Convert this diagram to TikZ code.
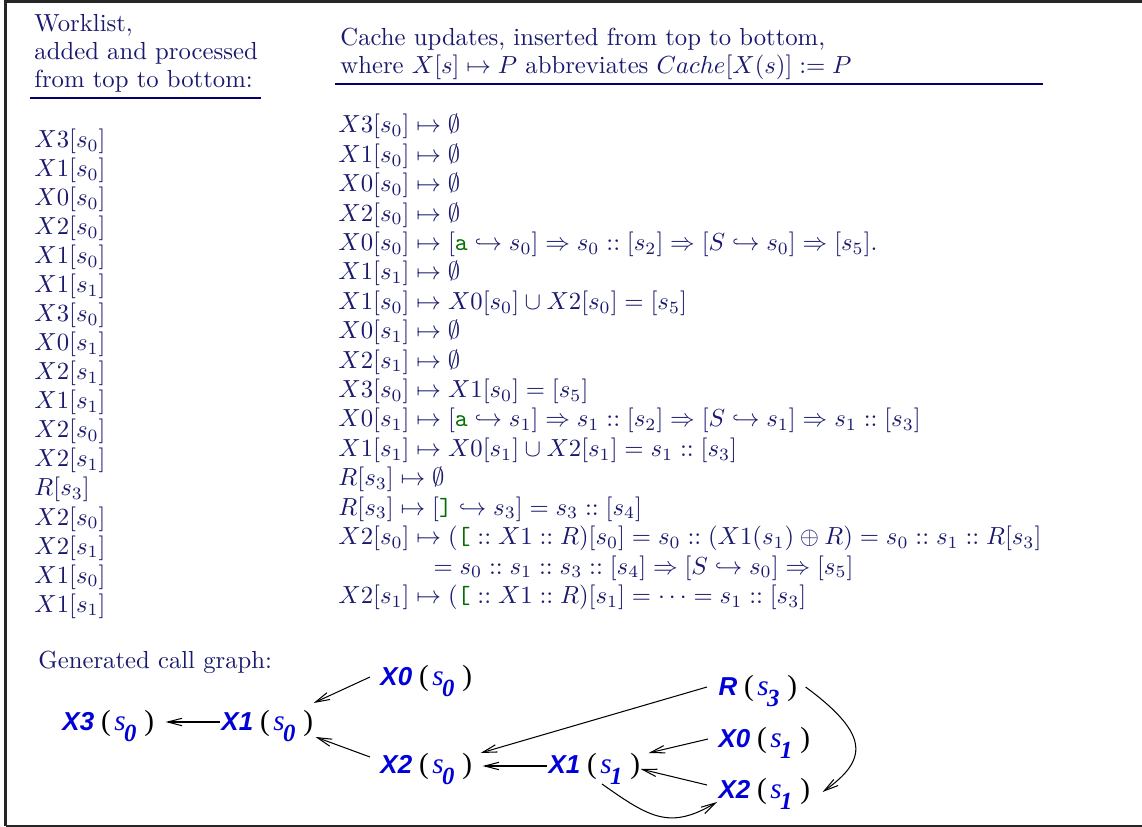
\documentclass[tikz,border=0pt]{standalone}
\usepackage{fontspec}
\usetikzlibrary{arrows.meta}
\newfontfamily\gsans{Liberation Sans}
\newfontfamily\gserif{Liberation Serif}
\definecolor{navytext}{RGB}{25,25,110}
\definecolor{navyline}{RGB}{0,0,110}
\definecolor{ttgreen}{RGB}{0,110,0}
\definecolor{gblue}{RGB}{0,0,215}
\newcommand\ga{\mbox{\color{ttgreen}\ttfamily a}}
\newcommand\gopen{\mbox{\color{ttgreen}\ttfamily [}}
\newcommand\gclose{\mbox{\color{ttgreen}\ttfamily ]}}
\newcommand\cgnode[2]{{\gsans\bfseries\itshape\fontsize{10.5}{12}\selectfont\color{gblue}#1}\hspace{2.8pt}{\gserif\fontsize{11.8}{12}\selectfont(}\hspace{1.4pt}{\gserif\itshape\fontsize{11.8}{12}\selectfont\color{gblue}s}\hspace{-0.6pt}\raisebox{-4.8pt}{\gserif\bfseries\itshape\fontsize{10}{10}\selectfont\color{gblue}#2}\hspace{3.2pt}{\gserif\fontsize{11.8}{12}\selectfont)}}
\tikzset{
  txt/.style={anchor=base west, inner sep=0pt, text=navytext, font=\fontsize{10}{12}\selectfont},
  gnode/.style={anchor=base west, inner sep=0pt},
  uline/.style={draw=navyline, line width=0.8pt},
  frameline/.style={draw=black!85, line width=1pt},
  arr/.style={draw=black, line width=0.42pt, -{Straight Barb[length=5.8pt,width=3pt,line width=0.42pt]}}
}
\begin{document}
\begin{tikzpicture}[x=0.405pt, y=-0.405pt]
\useasboundingbox (0,0) rectangle (1142,827);
% frame
\draw[frameline] (5.5,826) -- (5.5,1.5) -- (1150,1.5);
\draw[frameline] (5.5,826) -- (1150,826);
% headers
\node[txt] (wh1) at (34,32) {Worklist,};
\node[txt] (wh2) at (34,60) {added and processed};
\node[txt] (wh3) at (34,88) {from top to bottom:};
\draw[uline] (30,98) -- (261,98);
\node[txt] (ch1) at (340,46) {Cache updates, inserted from top to bottom,};
\node[txt] (ch2) at (340,74) {where $X[s] \mapsto P$ abbreviates $Cache[X(s)] := P$};
\draw[uline] (335,84) -- (1043,84);
% worklist
\foreach \t [count=\i] in {X3[s_0], X1[s_0], X0[s_0], X2[s_0], X1[s_0], X1[s_1], X3[s_0], X0[s_1], X2[s_1], X1[s_1], X2[s_0], X2[s_1], R[s_3], X2[s_0], X2[s_1], X1[s_0], X1[s_1]}
  \node[txt] (w\i) at (34,{148+(\i-1)*29}) {$\t$};
% cache updates
\node[txt] (c1) at (338,133) {$X3[s_0] \mapsto \emptyset$};
\node[txt] (c2) at (338,162.4) {$X1[s_0] \mapsto \emptyset$};
\node[txt] (c3) at (338,191.8) {$X0[s_0] \mapsto \emptyset$};
\node[txt] (c4) at (338,221.2) {$X2[s_0] \mapsto \emptyset$};
\node[txt] (c5) at (338,250.6) {$X0[s_0] \mapsto [\ga \hookrightarrow s_0] \Rightarrow s_0 :: [s_2] \Rightarrow [S \hookrightarrow s_0] \Rightarrow [s_5].$};
\node[txt] (c6) at (338,280) {$X1[s_1] \mapsto \emptyset$};
\node[txt] (c7) at (338,309.4) {$X1[s_0] \mapsto X0[s_0] \cup X2[s_0] = [s_5]$};
\node[txt] (c8) at (338,338.8) {$X0[s_1] \mapsto \emptyset$};
\node[txt] (c9) at (338,368.2) {$X2[s_1] \mapsto \emptyset$};
\node[txt] (c10) at (338,397.6) {$X3[s_0] \mapsto X1[s_0] = [s_5]$};
\node[txt] (c11) at (338,427) {$X0[s_1] \mapsto [\ga \hookrightarrow s_1] \Rightarrow s_1 :: [s_2] \Rightarrow [S \hookrightarrow s_1] \Rightarrow s_1 :: [s_3]$};
\node[txt] (c12) at (338,456.4) {$X1[s_1] \mapsto X0[s_1] \cup X2[s_1] = s_1 :: [s_3]$};
\node[txt] (c13) at (338,485.8) {$R[s_3] \mapsto \emptyset$};
\node[txt] (c14) at (338,515.2) {$R[s_3] \mapsto [\gclose \hookrightarrow s_3] = s_3 :: [s_4]$};
\node[txt] (c15) at (338,544.6) {$X2[s_0] \mapsto (\gopen :: X1 :: R)[s_0] = s_0 :: (X1(s_1) \oplus R) = s_0 :: s_1 :: R[s_3]$};
\node[txt] (c16) at (433,574) {$= s_0 :: s_1 :: s_3 :: [s_4] \Rightarrow [S \hookrightarrow s_0] \Rightarrow [s_5]$};
\node[txt] (c17) at (338,603.4) {$X2[s_1] \mapsto (\gopen :: X1 :: R)[s_1] = \cdots = s_1 :: [s_3]$};
% call graph
\node[txt] (cg) at (38,668) {Generated call graph:};
\node[gnode] (x3s0) at (62,730) {\cgnode{X3}{0}};
\node[gnode] (x1s0) at (221,730) {\cgnode{X1}{0}};
\node[gnode] (x0s0) at (380,685) {\cgnode{X0}{0}};
\node[gnode] (x2s0) at (380,773) {\cgnode{X2}{0}};
\node[gnode] (rs3) at (718,695) {\cgnode{R}{3}};
\node[gnode] (x0s1) at (718,747) {\cgnode{X0}{1}};
\node[gnode] (x1s1) at (548,773) {\cgnode{X1}{1}};
\node[gnode] (x2s1) at (718,798) {\cgnode{X2}{1}};
\draw[arr] ([shift={(-1,-8)}]x1s0.base west) -- ([shift={(11,-8)}]x3s0.base east);
\draw[arr] ([shift={(-10,-8)}]x0s0.base west) -- ([shift={(0,-27)}]x1s0.base east);
\draw[arr] ([shift={(-10,-16)}]x2s0.base west) -- ([shift={(2,7)}]x1s0.base east);
\draw[arr] ([shift={(-11,-8)}]rs3.base west) -- ([shift={(8,-20)}]x2s0.base east);
\draw[arr] ([shift={(-1,-7)}]x1s1.base west) -- ([shift={(10,-7)}]x2s0.base east);
\draw[arr] ([shift={(-10,-8)}]x0s1.base west) -- ([shift={(8,-20)}]x1s1.base east);
\draw[arr] ([shift={(-11,-13)}]x2s1.base west) -- ([shift={(0,-4)}]x1s1.base east);
\draw[arr] ([shift={(54,11)}]x1s1.base west) .. controls +(48,34) and +(-47,28) .. ([shift={(-1,4)}]x2s1.base west);
\draw[arr] ([shift={(8,-8)}]rs3.base east) .. controls +(65,48) and +(45,-32) .. ([shift={(12,-6)}]x2s1.base east);
\end{tikzpicture}
\end{document}
